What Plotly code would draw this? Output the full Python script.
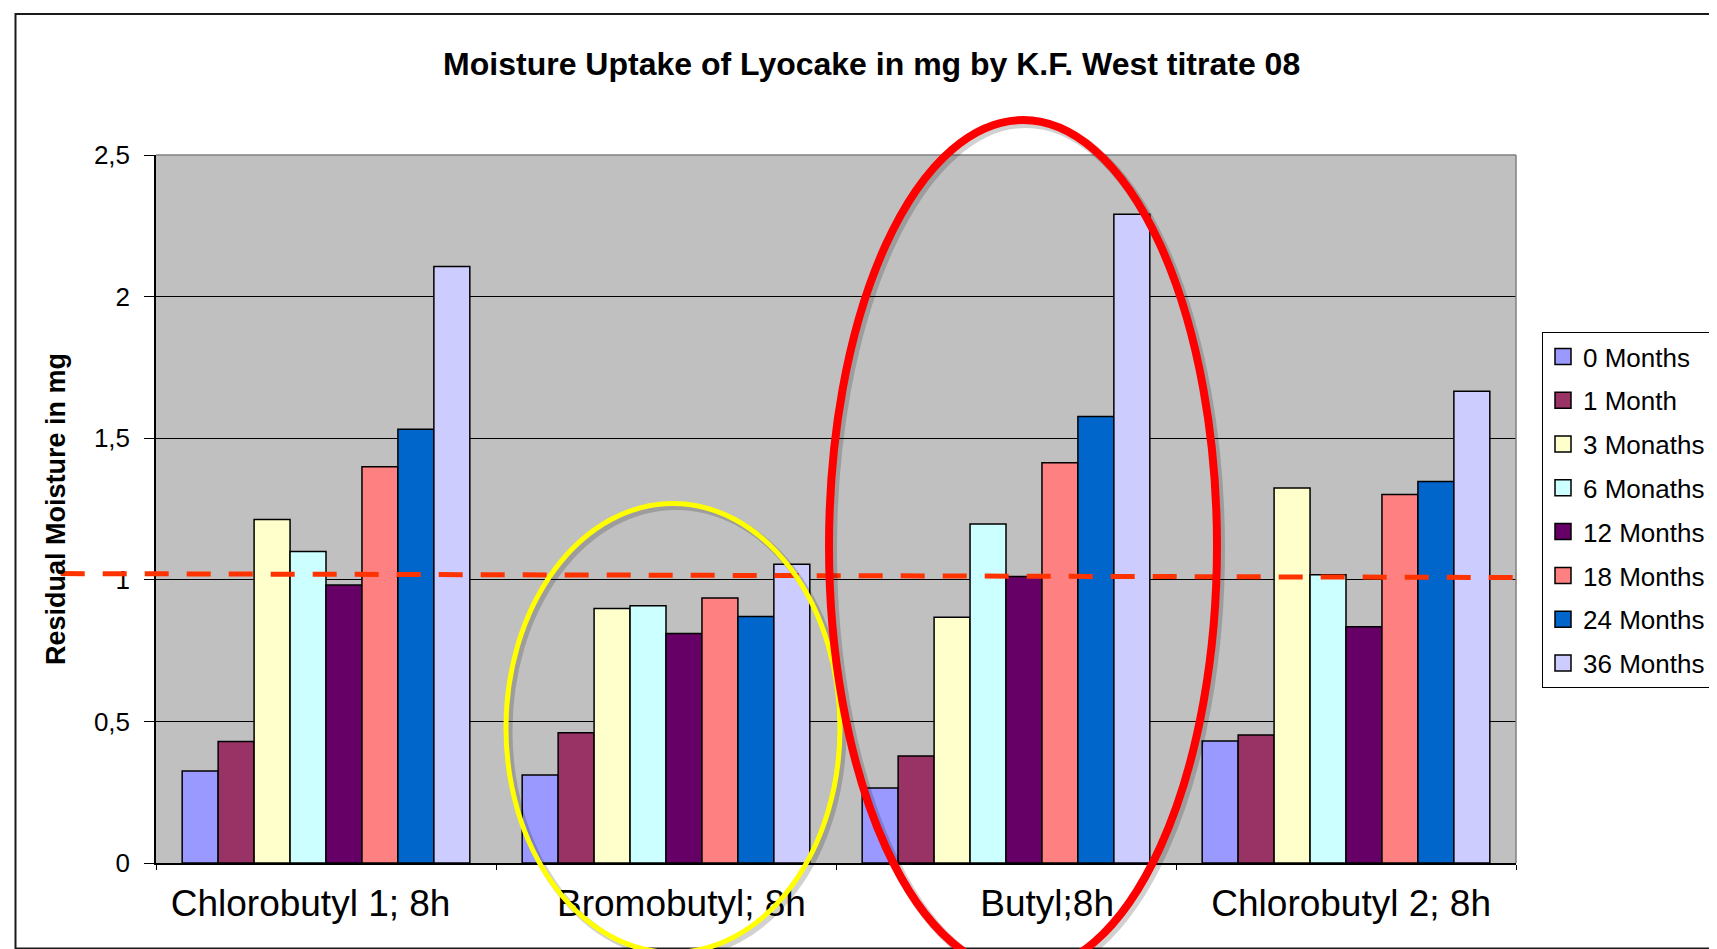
import plotly.graph_objects as go

# ---------------- data ----------------
categories = ["Chlorobutyl 1; 8h", "Bromobutyl; 8h", "Butyl;8h", "Chlorobutyl 2; 8h"]
NB = "\u00a0"
tick_labels = ["Chlorobutyl 1; 8h" + NB * 3, NB * 3 + "Bromobutyl; 8h",
               NB * 8 + "Butyl;8h", NB + "Chlorobutyl 2; 8h"]
series_names = ["0 Months", "1 Month", "3 Monaths", "6 Monaths",
                "12 Months", "18 Months", "24 Months", "36 Months"]
m0 = [0.325, 0.311, 0.265, 0.431]
m1 = [0.429, 0.460, 0.378, 0.452]
m3 = [1.213, 0.899, 0.868, 1.324]
m6 = [1.100, 0.908, 1.197, 1.018]
m12 = [0.982, 0.810, 1.012, 0.834]
m18 = [1.399, 0.936, 1.413, 1.301]
m24 = [1.532, 0.870, 1.577, 1.347]
m36 = [2.106, 1.055, 2.291, 1.666]
series_values = [m0, m1, m3, m6, m12, m18, m24, m36]
y_ticks = [0, 0.5, 1, 1.5, 2, 2.5]
threshold_left = 1.022
threshold_right = 1.008

# ---------------- style ----------------
colors = ["#9999FF", "#993366", "#FFFFCC", "#CCFFFF",
          "#660066", "#FF8080", "#0066CC", "#CCCCFF"]
FONT = "Arial, Liberation Sans, sans-serif"
W, H = 1717, 949
L, R, T, B = 148, 1508, 147, 855
Y_MAX = 2.5


def px_x(px):
    return (px - L) / (R - L)


def px_y(py):
    return (B - py) / (B - T)


fig = go.Figure()
for name, vals, col in zip(series_names, series_values, colors):
    fig.add_trace(go.Bar(
        x=categories, y=vals, name=name, showlegend=False,
        marker=dict(color=col, line=dict(color="#000000", width=1.5)),
    ))
# legend swatches
for name, col in zip(series_names, colors):
    fig.add_trace(go.Scatter(
        x=[None], y=[None], mode="markers", name=name, legendgroup=name,
        marker=dict(symbol="square", size=16, color=col,
                    line=dict(color="#000000", width=1.5)),
    ))

shapes = []
# outer chart frame
shapes.append(dict(type="rect", xref="paper", yref="paper",
                   x0=px_x(7.5), x1=px_x(1730), y0=px_y(940.5), y1=px_y(6),
                   line=dict(color="#1a1a1a", width=2), layer="above"))
# plot-area top/right border
shapes.append(dict(type="line", xref="paper", yref="paper", x0=0, x1=1, y0=1, y1=1,
                   line=dict(color="#808080", width=1.5)))
shapes.append(dict(type="line", xref="paper", yref="paper", x0=1, x1=1, y0=0, y1=1,
                   line=dict(color="#808080", width=1.5)))
# dashed threshold line
shapes.append(dict(type="line", xref="paper", yref="paper",
                   x0=px_x(52.7), x1=px_x(1509),
                   y0=threshold_left / Y_MAX, y1=threshold_right / Y_MAX,
                   line=dict(color="#FF3300", width=5, dash="24px,18px")))
# ellipses (shadow + stroke)
ellipses = [
    (665, 720, 167, 224.5, "#FFFF00", 5),
    (1015, 538, 194, 426, "#FF0000", 8),
]
for cx, cy, a, b, col, w in ellipses:
    shapes.append(dict(type="circle", xref="paper", yref="paper",
                       x0=px_x(cx - a + 3), x1=px_x(cx + a + 3),
                       y0=px_y(cy + b + 3), y1=px_y(cy - b + 3),
                       line=dict(color="rgba(0,0,0,0.18)", width=w + 2)))
    shapes.append(dict(type="circle", xref="paper", yref="paper",
                       x0=px_x(cx - a), x1=px_x(cx + a),
                       y0=px_y(cy + b), y1=px_y(cy - b),
                       line=dict(color=col, width=w)))

fig.update_layout(
    width=W, height=H,
    margin=dict(l=L, r=W - R, t=T, b=H - B, pad=0),
    paper_bgcolor="white",
    plot_bgcolor="#C0C0C0",
    separators=",.",
    barmode="group", bargap=0.154, bargroupgap=0,
    title=dict(text="Moisture Uptake of Lyocake in mg by K.F. West titrate 08",
               font=dict(family=FONT, size=32, color="black", weight="bold"),
               x=0.503, xref="container", xanchor="center",
               y=1 - 56 / H, yref="container", yanchor="middle"),
    font=dict(family=FONT, color="black"),
    legend=dict(x=px_x(1534), y=px_y(324), xanchor="left", yanchor="top",
                bgcolor="white", bordercolor="black", borderwidth=1,
                font=dict(family=FONT, size=26, color="black"),
                traceorder="grouped", tracegroupgap=7),
    shapes=shapes,
    xaxis=dict(type="category", tickmode="array", tickvals=categories, ticktext=tick_labels,
               tickson="boundaries", ticks="outside", ticklen=5, tickcolor="black",
               showline=True, linecolor="black", linewidth=1.5,
               showgrid=False, tickfont=dict(family=FONT, size=37, color="black"),
               ticklabelstandoff=7),
    yaxis=dict(range=[0, Y_MAX], tickmode="array", tickvals=y_ticks,
               ticks="outside", ticklen=10, tickcolor="black",
               showline=True, linecolor="black", linewidth=1.5,
               showgrid=True, gridcolor="#000000", gridwidth=1, zeroline=False,
               tickfont=dict(family=FONT, size=26, color="black"),
               ticklabelstandoff=9,
               title=dict(text="Residual Moisture in mg", standoff=20,
                          font=dict(family=FONT, size=27, color="black", weight="bold"))),
)

fig.write_html("out.html")
